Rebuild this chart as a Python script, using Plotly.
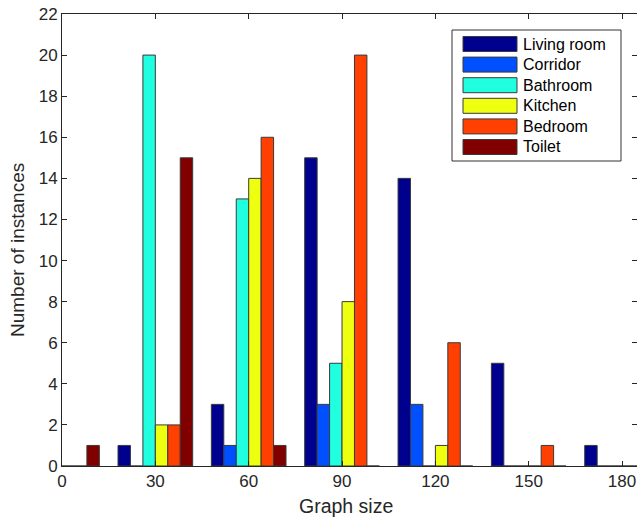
import plotly.graph_objects as go

graph_sizes = [0, 30, 60, 90, 120, 150, 180]
rooms = ["Living room", "Corridor", "Bathroom", "Kitchen", "Bedroom", "Toilet"]
living_room = [0, 1, 3, 15, 14, 5, 1]
corridor = [0, 0, 1, 3, 3, 0, 0]
bathroom = [0, 20, 13, 5, 0, 0, 0]
kitchen = [0, 2, 14, 8, 1, 0, 0]
bedroom = [0, 2, 16, 20, 6, 1, 0]
toilet = [1, 15, 1, 0, 0, 0, 0]
series = [living_room, corridor, bathroom, kitchen, bedroom, toilet]
colors = ["#00008F", "#0050FF", "#20FFDF", "#EFFF10", "#FF4000", "#800000"]
x_ticks = [0, 30, 60, 90, 120, 150, 180]
y_ticks = list(range(0, 23, 2))

W, H = 637, 522
L, R, T, B = 62, 0, 14, 56
pw, ph = W - L - R, H - T - B
FONT = "Liberation Sans, Arial, sans-serif"
TXT = "#262626"

fig = go.Figure()
for name, vals, col in zip(rooms, series, colors):
    fig.add_trace(go.Bar(
        x=graph_sizes, y=vals, name=name,
        marker=dict(color=col, line=dict(color="#3a3a3a", width=1)),
        showlegend=False,
    ))

def px2paper(x, y):
    return (x - L) / pw, (H - B - y) / ph

shapes = []
annotations = []
x0, y0 = px2paper(452, 30)
x1, y1 = px2paper(621, 161)
shapes.append(dict(type="rect", xref="paper", yref="paper", x0=x0, y0=y1, x1=x1, y1=y0,
                   line=dict(color="#333333", width=1), fillcolor="white", layer="above"))
for i, (name, col) in enumerate(zip(rooms, colors)):
    cy = 44 + 20.6 * i
    a0, b0 = px2paper(463, cy - 7.5)
    a1, b1 = px2paper(517, cy + 7.5)
    shapes.append(dict(type="rect", xref="paper", yref="paper", x0=a0, y0=b1, x1=a1, y1=b0,
                       line=dict(color="#3a3a3a", width=1), fillcolor=col, layer="above"))
    tx, ty = px2paper(521, cy)
    annotations.append(dict(x=tx, y=ty, xref="paper", yref="paper", text=name,
                            showarrow=False, xanchor="left", yanchor="middle",
                            font=dict(family=FONT, size=16, color="#000000")))

tx, ty = px2paper(345.5, 506)
annotations.append(dict(x=tx, y=ty, xref="paper", yref="paper", text="Graph size",
                        showarrow=False, xanchor="center", yanchor="middle",
                        font=dict(family=FONT, size=19.5, color=TXT)))
tx, ty = px2paper(18, 250)
annotations.append(dict(x=tx, y=ty, xref="paper", yref="paper", text="Number of instances",
                        showarrow=False, xanchor="center", yanchor="middle", textangle=-90,
                        font=dict(family=FONT, size=19, color=TXT)))

fig.update_layout(
    width=W, height=H,
    margin=dict(l=L, r=R, t=T, b=B, autoexpand=False),
    paper_bgcolor="white", plot_bgcolor="white",
    barmode="group", bargap=0.2, bargroupgap=0,
    font=dict(family=FONT, size=17, color=TXT),
    shapes=shapes, annotations=annotations,
    xaxis=dict(range=[0, 184.8], tickvals=x_ticks, ticks="inside", ticklen=5,
               showline=True, linecolor="#262626", linewidth=1, mirror="ticks",
               tickcolor="#262626", showgrid=False, zeroline=False, automargin=False,
               ticklabeloverflow="allow"),
    yaxis=dict(range=[0, 22], tickvals=y_ticks, ticks="inside", ticklen=5,
               showline=True, linecolor="#262626", linewidth=1, mirror="ticks",
               tickcolor="#262626", showgrid=False, zeroline=False, automargin=False,
               ticklabeloverflow="allow"),
)

fig.write_html(
    "out.html",
    config={"displayModeBar": False},
    post_script="document.body.style.margin='0';document.body.style.overflow='hidden';",
)
